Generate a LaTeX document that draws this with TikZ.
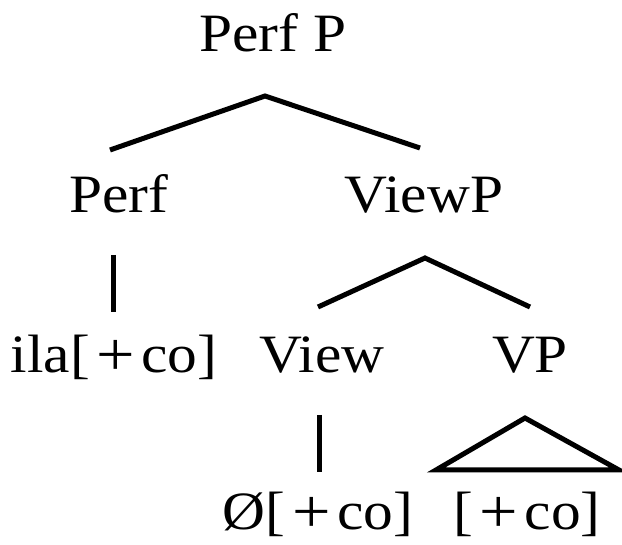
\documentclass[tikz,border=0pt]{standalone}
\usepackage{fontspec}
\setmainfont[FakeStretch=1.1]{Liberation Serif}
\newcommand{\bigplus}{\kern0.12em\raisebox{-0.04em}{\scalebox{1.15}{+}}\kern0.12em}
\begin{document}
\begin{tikzpicture}[x=1pt,y=-1pt,
  lab/.style={anchor=base,inner sep=0pt,font=\fontsize{54}{60}\selectfont},
  edge/.style={line width=5pt,line cap=butt,line join=miter}]
\useasboundingbox (0,0) rectangle (622,545);
\node[lab] (PerfP) at (273,52) {Perf P};
\node[lab] (Perf) at (119,213) {Perf};
\node[lab] (ViewP) at (424,213) {ViewP};
\node[lab] (ila) at (114,373) {ila[\bigplus co]};
\node[lab] (View) at (322,373) {View};
\node[lab] (VP) at (530,373) {VP};
\node[lab] (null) at (318,530) {Ø[\bigplus co]};
\node[lab] (feat) at (527,530) {[\bigplus co]};
\coordinate (pa) at (265,96);
\coordinate (pl) at (110,150);
\coordinate (pr) at (420,148);
\coordinate (va) at (425,258);
\coordinate (vl) at (318,307);
\coordinate (vr) at (530,307);
\coordinate (ptop) at (113,255);
\coordinate (pbot) at (113,312);
\coordinate (wtop) at (319,415);
\coordinate (wbot) at (319,472);
\coordinate (ta) at (525,418);
\coordinate (tl) at (436,470);
\coordinate (tr) at (619,470);
\draw[edge] (pl) -- (pa) -- (pr);
\draw[edge] (vl) -- (va) -- (vr);
\draw[edge] (ptop) -- (pbot);
\draw[edge] (wtop) -- (wbot);
\draw[edge] (ta) -- (tr) -- (tl) -- cycle;
\end{tikzpicture}
\end{document}
